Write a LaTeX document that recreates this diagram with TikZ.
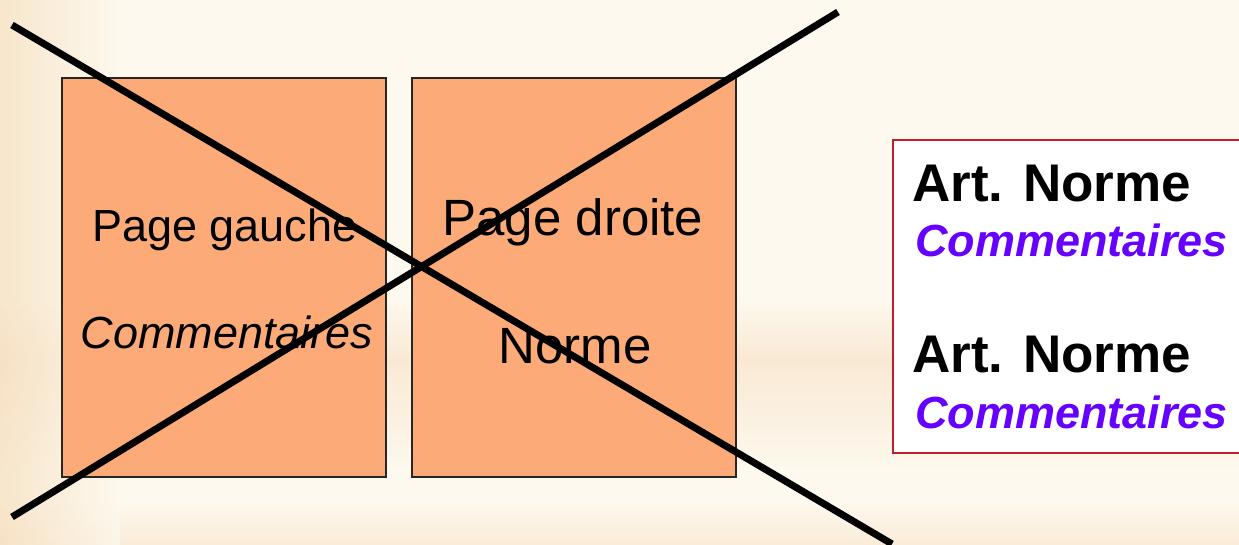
\documentclass[tikz,border=0pt]{standalone}
\usepackage{fontspec}
\setmainfont{Liberation Sans}
\definecolor{bgcream}{RGB}{253,249,238}
\definecolor{bgwarm}{RGB}{246,222,190}
\definecolor{pagefill}{RGB}{252,170,120}
\definecolor{crimson}{RGB}{190,30,45}
\definecolor{purp}{RGB}{102,0,255}
\tikzset{
  pagebox/.style={draw=black!85, line width=2pt, fill=pagefill, minimum width=324pt, minimum height=399pt, inner sep=0pt},
  cross/.style={line width=7pt, black},
  layoutbox/.style={draw=crimson, line width=2pt, fill=white, minimum width=360pt, minimum height=313pt, inner sep=0pt, anchor=north west},
  arttxt/.style={font=\fontsize{53}{60}\selectfont\bfseries, anchor=base west, inner sep=0pt},
  comtxt/.style={font=\fontsize{45}{52}\selectfont\bfseries\itshape, text=purp, anchor=base west, inner sep=0pt}
}
\begin{document}
\begin{tikzpicture}[x=1pt,y=-1pt]
\useasboundingbox (0,0) rectangle (1239,545);
\clip (0,0) rectangle (1239,545);
% background
\fill[bgcream] (0,0) rectangle (1239,545);
\shade[top color=bgcream, bottom color=bgwarm!70, opacity=0.9] (0,300) rectangle (1239,360);
\shade[top color=bgwarm!70, bottom color=bgcream, opacity=0.9] (0,360) rectangle (1239,470);
\shade[top color=bgcream, bottom color=bgwarm!60] (0,500) rectangle (1239,545);
\shade[left color=bgwarm, right color=bgcream, opacity=0.7] (0,0) rectangle (120,545);
% pages
\node[pagebox] (left) at (224,277.5) {};
\node[pagebox] (right) at (573.5,277.5) {};
\node[font=\fontsize{45}{52}\selectfont, anchor=base] (lt1) at (225,242) {Page gauche};
\node[font=\fontsize{45}{52}\selectfont\itshape, anchor=base] (lt2) at (227,348) {Commentaires};
\node[font=\fontsize{51}{58}\selectfont, anchor=base] (rt1) at (573,236) {Page droite};
\node[font=\fontsize{51}{58}\selectfont, anchor=base] (rt2) at (575,363) {Norme};
% cross
\coordinate (c1a) at (12,25);
\coordinate (c1b) at (892,544);
\coordinate (c2a) at (12,517);
\coordinate (c2b) at (838,12);
\draw[cross] (c1a) -- (c1b);
\draw[cross] (c2a) -- (c2b);
% layout box
\node[layoutbox] (lay) at (892,139) {};
\node[arttxt] (a1) at (912,202) {Art. Norme};
\node[comtxt] (k1) at (915,257) {Commentaires};
\node[arttxt] (a2) at (912,372) {Art. Norme};
\node[comtxt] (k2) at (915,428) {Commentaires};
\end{tikzpicture}
\end{document}
